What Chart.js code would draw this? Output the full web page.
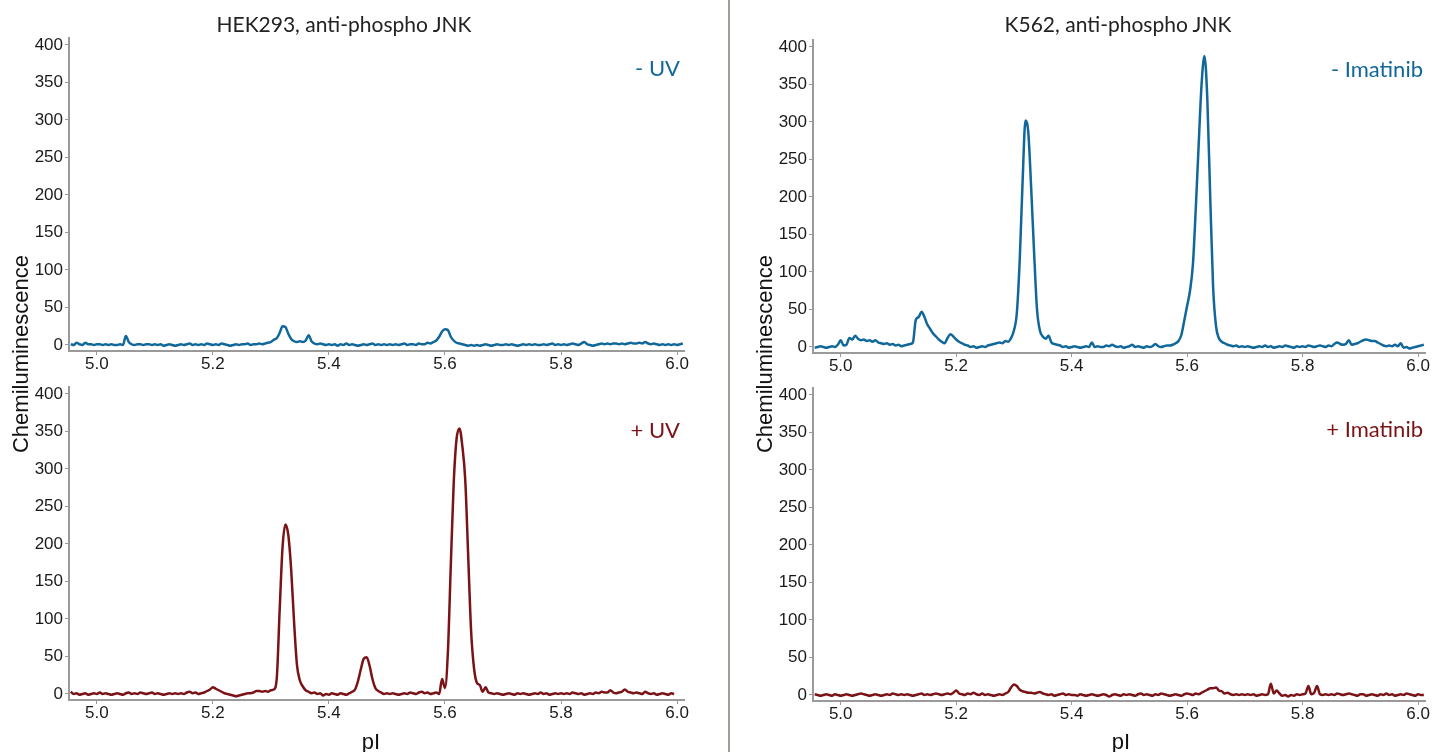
<!DOCTYPE html>
<html>
<head>
<meta charset="utf-8">
<script src="https://cdn.jsdelivr.net/npm/chart.js@4.4.1/dist/chart.umd.min.js"></script>
<style>
  body { margin: 0; background: #fff; }
  #page { position: relative; width: 1445px; height: 752px; overflow: hidden; background: #fff; }
  canvas { position: absolute; }
  .txt { position: absolute; white-space: nowrap; }
  .title { font-family: Lato, "Open Sans", sans-serif; font-size: 21px; line-height: 24px; color: #222; width: 400px; text-align: center; }
  .tag { font-family: Lato, "Open Sans", sans-serif; font-size: 22px; line-height: 24px; text-align: right; }
  .axt { font-family: "Liberation Sans", Arial, sans-serif; font-size: 22px; line-height: 24px; color: #111; text-align: center; }
  .ytitle { width: 300px; transform: rotate(-90deg); }
</style>
</head>
<body>
<div id="page">
  <canvas id="c1" width="695" height="363" style="left:9px;top:18px"></canvas>
  <canvas id="c2" width="695" height="363" style="left:9px;top:367px"></canvas>
  <canvas id="c3" width="692" height="363" style="left:753px;top:20px"></canvas>
  <canvas id="c4" width="692" height="363" style="left:753px;top:368px"></canvas>

  <div style="position:absolute;left:728px;top:0;width:2px;height:752px;background:#9e9e96"></div>

  <div class="txt title" style="left:144px;top:12px">HEK293, anti-phospho JNK</div>
  <div class="txt title" style="left:918px;top:12px">K562, anti-phospho JNK</div>

  <div class="txt tag" style="right:765px;top:56px;color:#10679a">- UV</div>
  <div class="txt tag" style="right:765px;top:418px;color:#7a1216">+ UV</div>
  <div class="txt tag" style="right:22px;top:57px;color:#10679a">- Imatinib</div>
  <div class="txt tag" style="right:22px;top:417px;color:#7a1216">+ Imatinib</div>

  <div class="txt axt ytitle" style="left:-129px;top:342px">Chemiluminescence</div>
  <div class="txt axt ytitle" style="left:615px;top:342px">Chemiluminescence</div>
  <div class="txt axt" style="left:321px;top:730px;width:100px">pI</div>
  <div class="txt axt" style="left:1071px;top:730px;width:100px">pI</div>
</div>

<script>
// pI sampling grid, 4.955 .. 6.010 every 0.005
const pI = [];
for (let i = 0; i < 212; i++) pI.push(+(4.955 + i * 0.005).toFixed(3));

const xTicks = [5.0, 5.2, 5.4, 5.6, 5.8, 6.0];
const yTicks = [0, 50, 100, 150, 200, 250, 300, 350, 400];

// HEK293, - UV
const hekMinusUV = [
  1, 0, 3, 1, 0, 3, 1, 1, 0, 1,
  1, 0, 1, 0, 1, 0, 0, 1, 0, 12, 4, 1, 0, 1, 1, 0, 1, 1, 0, 1,
  0, 1, -1, 0, 1, 0, -1, 0, 1, 0, 1, 2, 0, 1, 0, 1, 0, 2, 1, 0,
  1, 0, 2, 1, 0, -1, 0, 1, 0, 1, 1, 2, 0, 1, 1, 2, 1, 2, 3, 4,
  7, 9, 16, 25, 24, 15, 8, 5, 4, 5, 4, 6, 13, 5, 2, 1, 2, 1, 0, 1,
  0, 1, -1, 1, 0, 2, 0, 1, 0, -1, 0, 1, 0, 1, 2, 0, 1, 0, 1, 0,
  1, 0, 1, 0, 1, 2, 0, 1, 1, 0, 2, 1, 1, 3, 2, 4, 6, 11, 18, 21,
  20, 11, 6, 3, 2, 1, 0, -1, 0, -1, 0, -1, 0, 1, 0, -1, 0, 1, 0, 0,
  1, 0, 1, 0, -1, 0, 1, 0, 1, 0, 1, 0, 0, 1, 0, 1, 2, 0, 1, 0,
  1, 0, 1, 2, 1, 0, 2, 4, 1, 0, -1, 0, 1, 2, 1, 2, 1, 2, 2, 1,
  2, 1, 2, 3, 2, 2, 3, 2, 4, 2, 1, 2, 1, 0, 1, 0, 1, 0, 1, 0,
  1, 2
];

// HEK293, + UV
const hekPlusUV = [
  3, 0, 1, -1, 0, 1, -1, 0, 1, 0,
  2, 0, 1, 0, -1, 0, 1, 0, -1, 1, 2, 0, 1, 0, 2, 1, 0, 1, 2, 0,
  1, 0, -1, 0, 1, 0, 1, 0, 1, 0, 2, 3, 1, 2, 0, 1, 2, 4, 6, 9,
  7, 5, 3, 1, 0, -1, -2, -3, -2, -1, 0, 1, 1, 2, 4, 4, 3, 4, 3, 5,
  6, 20, 110, 195, 226, 212, 165, 95, 38, 18, 10, 5, 3, 1, 2, 0, 1, -2, 0, -1,
  1, 0, -1, 1, 0, -1, 1, 3, 6, 17, 33, 47, 49, 38, 20, 8, 4, 2, 0, 1,
  0, 1, 0, -1, 0, 1, 0, 2, 1, 0, 2, 3, 1, 2, 0, 1, 2, 0, 20, 8,
  55, 170, 280, 340, 354, 330, 285, 185, 85, 35, 15, 12, 3, 9, 2, 1, 0, 1, 0, -1,
  0, 1, 0, -1, 1, 0, 1, 0, -1, 0, 1, 0, 2, 0, 1, -1, 0, 1, 0, 1,
  0, 1, 0, 2, 1, 0, 1, -1, 0, 1, 0, 2, 1, 3, 2, 2, 5, 2, 1, 2,
  3, 6, 3, 2, 1, 2, 1, 0, 3, 1, 0, 1, -1, 0, 1, 0, -1, 1, 0, null,
  null, null
];

// K562, - Imatinib
const k562MinusIma = [
  -1, 0, 1, 0, -1, 0, 1, 0, 3, 9,
  2, 3, 12, 10, 15, 11, 9, 10, 8, 9, 7, 9, 6, 5, 4, 5, 3, 4, 2, 3,
  1, 2, 3, 4, 6, 36, 40, 47, 40, 30, 24, 18, 14, 10, 7, 5, 12, 17, 14, 10,
  7, 5, 3, 2, 0, 1, -1, 0, 1, 0, 2, 3, 4, 5, 6, 5, 8, 7, 12, 22,
  45, 115, 220, 302, 285, 210, 125, 50, 22, 14, 11, 15, 6, 4, 3, 2, 0, 1, -1, 0,
  1, 0, -1, 0, 1, 0, 6, 0, 1, 0, 0, 2, 1, 3, 1, 0, 1, -1, 0, 1,
  3, 0, 1, 0, -1, 1, 0, 1, 4, 1, 0, 1, 2, 2, 3, 5, 8, 16, 35, 55,
  75, 110, 185, 270, 350, 388, 330, 200, 80, 28, 12, 7, 5, 3, 2, 1, 2, 0, 1, 0,
  1, 0, -1, 0, 1, 0, 2, 0, 1, -1, 0, 1, 0, 2, 1, 0, -1, 1, 0, 1,
  0, 2, 1, 0, 1, 2, 1, 0, 2, 1, 4, 6, 4, 3, 4, 9, 3, 4, 5, 7,
  9, 10, 9, 8, 8, 6, 4, 2, 1, 2, 1, 3, 1, 5, -1, 0, -2, -1, 0, 1,
  2, 3
];

// K562, + Imatinib
const k562PlusIma = [
  1, 0, -1, 0, 1, 0, -1, 1, 0, -1,
  0, 1, 0, -1, 0, 1, 2, 1, 0, -1, 0, 1, 0, -1, 0, 1, 0, 2, 1, 0,
  1, 0, 1, 0, -1, 0, 1, 2, 0, 1, 0, 1, 2, 1, 0, 1, 2, 1, 3, 6,
  2, 1, 0, 2, 1, 3, 1, 0, 2, 0, 1, 0, -1, 0, 1, 0, 2, 4, 10, 14,
  12, 7, 5, 4, 3, 3, 2, 3, 4, 2, 1, 0, 1, -1, 0, 1, 2, 0, 1, 0,
  0, -1, 1, 0, -1, 0, 1, 0, -1, 0, 1, 0, -2, 0, 1, 0, -1, 1, 0, 1,
  0, -1, 1, 2, 0, 1, 0, -1, 1, 0, 2, 1, 0, -1, 0, 1, 0, -1, 1, 2,
  1, 0, 2, 1, 3, 5, 7, 9, 9, 10, 6, 5, 2, 3, 1, 0, 1, 0, 1, 0,
  1, 0, 1, -1, 0, 1, 0, 1, 15, 2, 6, 2, -1, 0, -2, 0, -1, 1, 0, 1,
  2, 12, 1, 3, 12, 1, 0, 1, 0, 1, 0, 2, 1, 0, 1, 2, 1, 0, -1, 1,
  1, -1, 0, 1, 0, -1, 1, 0, 2, 0, 1, -1, 0, 1, 0, 2, 1, 0, -1, 1,
  0, 0
];

const blue = '#10679a';
const red = '#7a1216';
const axisGrey = '#9a9a9a';

function makePanel(id, values, color) {
  const ctx = document.getElementById(id).getContext('2d');
  return new Chart(ctx, {
    type: 'line',
    data: {
      datasets: [{
        data: pI.map((x, i) => ({ x: x, y: values[i] })),
        borderColor: color,
        borderWidth: 2.5,
        pointRadius: 0,
        fill: false,
        cubicInterpolationMode: 'monotone',
        spanGaps: false
      }]
    },
    options: {
      responsive: false,
      animation: false,
      layout: { padding: { top: 20, right: 20, left: 0, bottom: 0 } },
      plugins: { legend: { display: false }, tooltip: { enabled: false }, title: { display: false } },
      scales: {
        x: {
          type: 'linear',
          min: 4.952,
          max: 6.012,
          afterBuildTicks: function (scale) { scale.ticks = xTicks.map(v => ({ value: v })); },
          afterFit: function (scale) { scale.height = 30; },
          border: { display: true, color: axisGrey, width: 2 },
          grid: { drawOnChartArea: false, drawTicks: true, tickLength: 4, color: axisGrey },
          ticks: {
            padding: -1,
            color: '#1a1a1a',
            font: { family: 'Liberation Sans', size: 17 },
            maxRotation: 0,
            callback: v => v.toFixed(1)
          }
        },
        y: {
          min: -8,
          max: 409.3,
          afterBuildTicks: function (scale) { scale.ticks = yTicks.map(v => ({ value: v })); },
          afterFit: function (scale) { scale.width = 60; },
          border: { display: true, color: axisGrey, width: 2 },
          grid: { drawOnChartArea: false, drawTicks: true, tickLength: 4, color: axisGrey },
          ticks: {
            padding: 2,
            color: '#1a1a1a',
            font: { family: 'Liberation Sans', size: 17 },
            callback: v => String(v)
          }
        }
      }
    }
  });
}

makePanel('c1', hekMinusUV, blue);
makePanel('c2', hekPlusUV, red);
makePanel('c3', k562MinusIma, blue);
makePanel('c4', k562PlusIma, red);
</script>
</body>
</html>
